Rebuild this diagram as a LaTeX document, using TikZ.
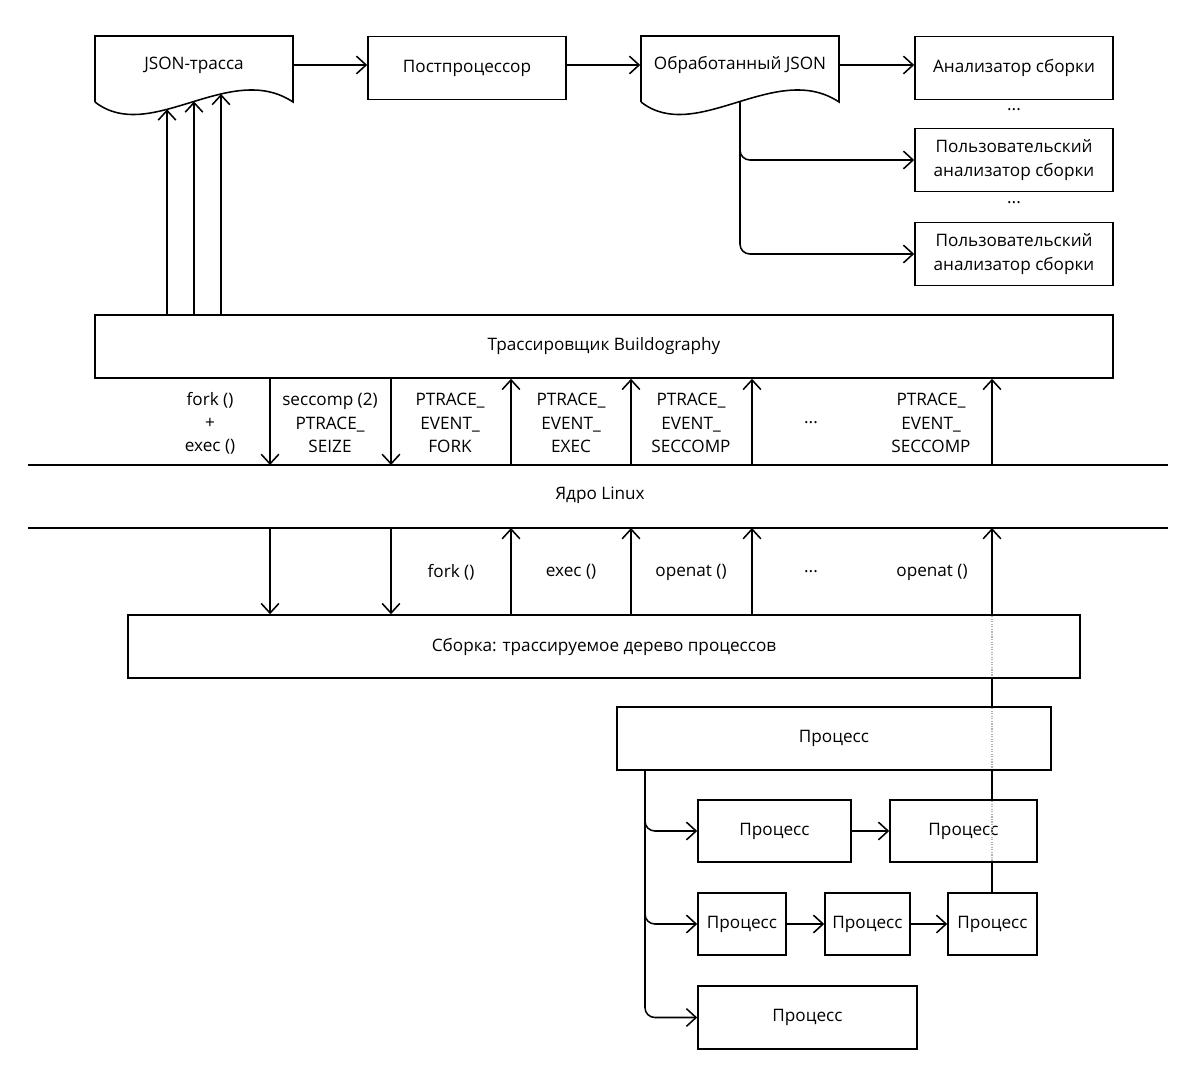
\documentclass[tikz,border=0pt]{standalone}
\usepackage{fontspec}
\setmainfont{Open Sans}
\usetikzlibrary{arrows.meta, intersections, backgrounds}

\tikzset{
  every picture/.style={line width=1.1pt},
  box/.style={draw, fill=white, align=center, minimum height=1.575cm, inner sep=1pt},
  arr/.style={line width=1.1pt, -{Straight Barb[length=2.4mm, width=4.4mm]}},
  lbl/.style={align=center, inner sep=1pt},
  hidden/.style={gray!60, line width=0.8pt, densely dotted},
}

\begin{document}
\begin{tikzpicture}[x=0.025cm, y=-0.025cm,
  font=\fontsize{12.2}{16.5}\selectfont]
\useasboundingbox (0,0) rectangle (1200,1082);

% Documents and analysers
\draw[fill=white, name path=wave1] (95,102) -- (95,36) -- (293,36) -- (293,102)
  .. controls (230,60) and (150,145) .. (95,102);
\draw[fill=white, name path=wave2] (641,102) -- (641,36) -- (839,36) -- (839,102)
  .. controls (776,60) and (696,145) .. (641,102);
\node[lbl, minimum width=4.95cm] (trace) at (194,65) {JSON-трасса};
\node[lbl, minimum width=4.95cm] (json) at (740,65) {Обработанный JSON};

\node[box, minimum width=4.95cm] (post) at (467,68) {Постпроцессор};
\node[box, minimum width=4.95cm] (ana) at (1014,68) {Анализатор сборки};
\node[lbl] (dots1) at (1014,110) {...};
\node[box, minimum width=4.95cm] (ua1) at (1014,160) {Пользовательский\\анализатор сборки};
\node[lbl] (dots2) at (1014,203) {...};
\node[box, minimum width=4.95cm] (ua2) at (1014,254) {Пользовательский\\анализатор сборки};

\draw[arr] (trace.east) -- (trace.east -| post.west);
\draw[arr] (post.east |- json.west) -- (json.west);
\draw[arr] (json.east) -- (json.east -| ana.west);

\path[name path=down0] (740,45) -- (740,200);
\path[name intersections={of=wave2 and down0, by=w0}];
\draw[arr, rounded corners=7pt] (w0) |- (ua1.west);
\draw[arr, rounded corners=7pt] (w0) |- (ua2.west);

% Tracer
\node[box, minimum width=25.45cm] (tracer) at (604,346.5) {Трассировщик Buildography};

\foreach \x [count=\i] in {167,194,221} {
  \path[name path=up\i] (\x,320) -- (\x,50);
  \path[name intersections={of=wave1 and up\i, by=w\i}];
  \draw[arr] (tracer.north -| w\i) -- (w\i);
}

% Kernel
\coordinate (kl1) at (28,465);
\coordinate (kr1) at (1168,465);
\coordinate (kl2) at (28,528);
\coordinate (kr2) at (1168,528);
\draw (kl1) -- (kr1);
\draw (kl2) -- (kr2);
\node[lbl] (kernel) at (600,495) {Ядро Linux};

\foreach \x [count=\i] in {270,391,511,631,752,992} {
  \coordinate (ka\i) at (\x,465);
  \coordinate (kb\i) at (\x,528);
}

\node[lbl] (s1) at (210,423) {fork ()\\+\\exec ()};
\node[lbl] (s2) at (330,423) {seccomp (2)\\PTRACE\_\\SEIZE};
\node[lbl] (s3) at (450,423) {PTRACE\_\\EVENT\_\\FORK};
\node[lbl] (s4) at (571,423) {PTRACE\_\\EVENT\_\\EXEC};
\node[lbl] (s5) at (691,423) {PTRACE\_\\EVENT\_\\SECCOMP};
\node[lbl] (s6) at (811,423) {...};
\node[lbl] (s7) at (931,423) {PTRACE\_\\EVENT\_\\SECCOMP};

\node[lbl] (c1) at (451,572) {fork ()};
\node[lbl] (c2) at (571,572) {exec ()};
\node[lbl] (c3) at (691,572) {openat ()};
\node[lbl] (c4) at (811,572) {...};
\node[lbl] (c5) at (932,572) {openat ()};

% Build and processes
\node[box, minimum width=23.8cm] (build) at (604,646.5) {Сборка: трассируемое дерево процессов};
\node[box, minimum width=10.85cm] (proc) at (834,738.5) {Процесс};
\node[box, minimum width=3.825cm, minimum height=1.55cm] (pa) at (774.5,831) {Процесс};
\node[box, minimum width=3.675cm, minimum height=1.55cm] (pb) at (963.5,831) {Процесс};
\node[box, minimum width=2.2cm, minimum height=1.55cm] (pc) at (742,924) {Процесс};
\node[box, minimum width=2.125cm, minimum height=1.55cm] (pd) at (867.5,924) {Процесс};
\node[box, minimum width=2.225cm, minimum height=1.55cm] (pe) at (992.5,924) {Процесс};
\node[box, minimum width=5.475cm] (pf) at (807.5,1017.5) {Процесс};

\foreach \i in {1,2} {
  \draw[arr] (tracer.south -| ka\i) -- (ka\i);
  \draw[arr] (kb\i) -- (kb\i |- build.north);
}
\foreach \i in {3,4,5,6} {
  \draw[arr] (ka\i) -- (tracer.south -| ka\i);
}
\foreach \i in {3,4,5} {
  \draw[arr] (kb\i |- build.north) -- (kb\i);
}

\begin{pgfonlayer}{background}
  \draw[arr] (kb6 |- pe.north) -- (kb6);
\end{pgfonlayer}
\foreach \n in {build,proc,pb} {
  \draw[hidden] (kb6 |- \n.north) ++(0,2) -- ([yshift=0.05cm]kb6 |- \n.south);
}

\coordinate (trunk) at (645,770);
\draw[arr, rounded corners=7pt] (proc.south -| trunk) |- (pa.west);
\draw[arr, rounded corners=7pt] (proc.south -| trunk) |- (pc.west);
\draw[arr, rounded corners=7pt] (proc.south -| trunk) |- (pf.west);

\draw[arr] (pa) -- (pb);
\draw[arr] (pc) -- (pd);
\draw[arr] (pd) -- (pe);
\end{tikzpicture}
\end{document}
